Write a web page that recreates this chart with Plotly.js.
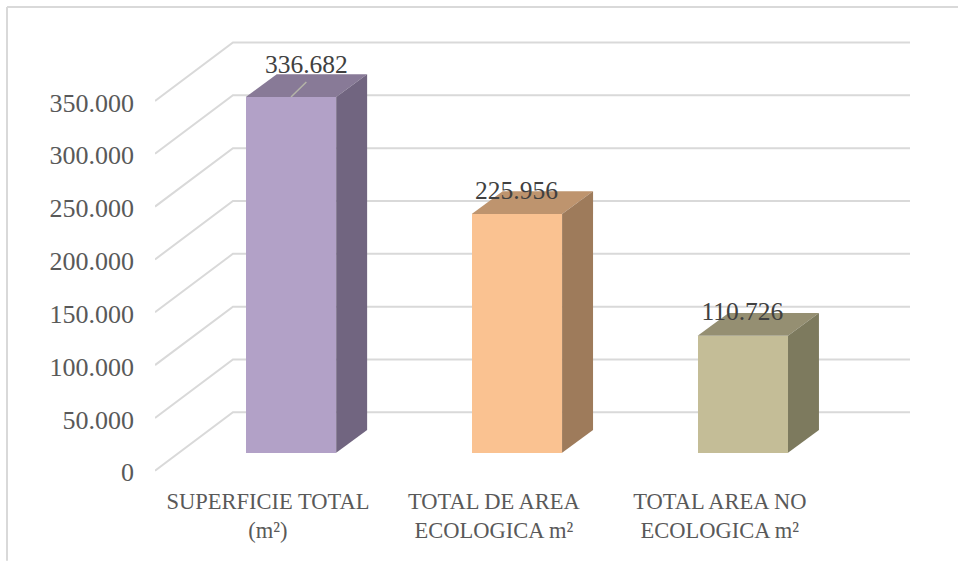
<!DOCTYPE html>
<html><head><meta charset="utf-8">
<script src="https://cdn.plot.ly/plotly-3.0.1.min.js"></script>
<style>html,body{margin:0;padding:0;background:#fff}#c{width:958px;height:561px}</style>
</head><body><div id="c"></div>
<script>
const categories = ["SUPERFICIE TOTAL<br>(m²)", "TOTAL DE AREA<br>ECOLOGICA m²", "TOTAL AREA NO<br>ECOLOGICA m²"];
const values = [336682, 225956, 110726];
const valueLabels = ["336.682", "225.956", "110.726"];
const frontColors = ["#B2A1C7", "#FAC291", "#C4BD97"];
const topColors = ["#887A97", "#BE946E", "#958F72"];
const sideColors = ["#716580", "#9E7B5B", "#7D7A5E"];
const tickValues = [0, 50000, 100000, 150000, 200000, 250000, 300000, 350000];
const tickLabels = ["0", "50.000", "100.000", "150.000", "200.000", "250.000", "300.000", "350.000"];
const labelShiftX = [0.07, 0, 0];
const labelShiftY = [7600, -900, -900];

// oblique projection, in axis units
const wallDx = 0.345, wallDy = 55340;   // front-left edge -> back wall
const barWidth = 0.4, barDx = 0.137, barDy = 21500, barBase = -38300;
const barNudge = 0.002;
const xLeft = -0.6, xRight = 2.742, yTop = 361800;
const labelOffset = -0.1;
const tickNudge = -1500;
const yPad = 4000;
const xr = [xLeft, xRight], yr = [-wallDy - yPad, yTop];
const gridColor = "#D9D9D9";

const traces = [];
tickValues.forEach(v => traces.push({
  type: "scatter", mode: "lines", xaxis: "x", yaxis: "y", showlegend: false, hoverinfo: "skip",
  x: [xLeft, xLeft + wallDx, xRight], y: [v - wallDy, v, v],
  line: {color: gridColor, width: 2}, cliponaxis: false
}));
// front faces
traces.push({
  type: "bar", xaxis: "x2", yaxis: "y2", showlegend: false,
  x: values.map((_, i) => i + barNudge), y: values, base: values.map(() => barBase), width: barWidth,
  marker: {color: frontColors, line: {width: 0}}, hoverinfo: "skip"
});
values.forEach((v, i) => {
  const l = i + barNudge - barWidth / 2, r = i + barNudge + barWidth / 2, top = barBase + v;
  traces.push({type: "scatter", mode: "lines", fill: "toself", fillcolor: topColors[i], xaxis: "x2", yaxis: "y2",
    showlegend: false, hoverinfo: "skip", line: {width: 0},
    x: [l, r, r + barDx, l + barDx, l], y: [top, top, top + barDy, top + barDy, top]});
  traces.push({type: "scatter", mode: "lines", fill: "toself", fillcolor: sideColors[i], xaxis: "x2", yaxis: "y2",
    showlegend: false, hoverinfo: "skip", line: {width: 0},
    x: [r, r + barDx, r + barDx, r, r], y: [barBase, barBase + barDy, top + barDy, top, barBase]});
});
// leader line of the first label
traces.push({type: "scatter", mode: "lines", xaxis: "x2", yaxis: "y2", showlegend: false, hoverinfo: "skip",
  x: [barNudge, labelShiftX[0]], y: [barBase + values[0], barBase + values[0] + barDy * 0.66],
  line: {color: "#B4B4A8", width: 1.5}});
traces.push({type: "scatter", mode: "text", xaxis: "x2", yaxis: "y2", showlegend: false, hoverinfo: "skip",
  x: values.map((_, i) => i + labelShiftX[i]),
  y: values.map((v, i) => barBase + v + barDy + labelShiftY[i]),
  text: valueLabels, textposition: "middle center", cliponaxis: false,
  textfont: {family: "Liberation Serif", size: 25.5, color: "#404040"}});

const W = 958, H = 561, L = 155, R = 48, T = 30;
const scale = 441 / (yTop + wallDy);          // px per value unit
const B = 90 - yPad * scale;
const px = x => (x - L) / (W - L - R), py = y => 1 - (y - T) / (H - T - B);
const layout = {
  width: W, height: H, paper_bgcolor: "#fff", plot_bgcolor: "rgba(0,0,0,0)",
  margin: {l: L, r: R, t: T, b: B}, showlegend: false, bargap: 0,
  font: {family: "Liberation Serif", color: "#595959"},
  xaxis: {range: xr, showgrid: false, zeroline: false, showline: false, ticks: "", fixedrange: true,
    tickmode: "array", tickvals: categories.map((_, i) => i + labelOffset), ticktext: categories,
    tickangle: 0, ticklabelstandoff: 10, tickfont: {size: 22.5, color: "#595959"}},
  yaxis: {range: yr, showgrid: false, zeroline: false, showline: false, ticks: "", fixedrange: true,
    tickmode: "array", tickvals: tickValues.map(v => v - wallDy + tickNudge), ticktext: tickLabels,
    ticklabelstandoff: 20, tickfont: {size: 26, color: "#595959"}},
  xaxis2: {range: xr, overlaying: "x", visible: false, fixedrange: true},
  yaxis2: {range: yr, overlaying: "y", visible: false, fixedrange: true},
  shapes: [
    {type: "line", xref: "paper", yref: "paper", x0: px(7), x1: px(7), y0: py(7), y1: py(561), line: {color: "#D9D9D9", width: 2}},
    {type: "line", xref: "paper", yref: "paper", x0: px(7), x1: px(958), y0: py(7), y1: py(7), line: {color: "#D9D9D9", width: 2}}
  ]
};
Plotly.newPlot("c", traces, layout, {displayModeBar: false, staticPlot: true});
</script></body></html>
